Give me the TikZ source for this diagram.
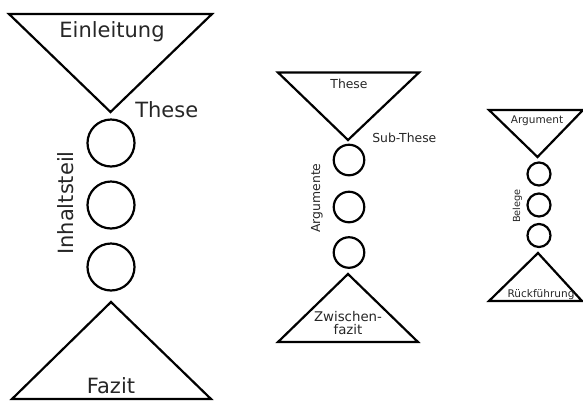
\documentclass[tikz,border=0pt]{standalone}
\usepackage{fontspec}
\setmainfont{DejaVu Sans}
\usetikzlibrary{positioning}

\begin{document}
\begin{tikzpicture}[
  x=0.75pt, y=-0.75pt,
  funnel/.style={draw=black, line width=1.65pt, line join=miter},
  ring/.style={circle, draw=black, line width=1.65pt, inner sep=0pt},
  bigtext/.style={font=\fontsize{15.75}{19}\selectfont, text=black!85},
  midtext/.style={font=\fontsize{9.3}{11}\selectfont, text=black!85},
  smalltext/.style={font=\fontsize{7.9}{9}\selectfont, text=black!85}
]
\useasboundingbox (0,0) rectangle (583,401);

% Essay: Einleitung - Inhaltsteil - Fazit
\draw[funnel] (9,14) -- (212,14) -- (110.5,112) -- cycle;
\draw[funnel] (12,399) -- (211,399) -- (111,302) -- cycle;
\node[ring, minimum size=35.25pt] (teil1) at (111,143) {};
\node[ring, minimum size=35.25pt] (teil2) at (111,205) {};
\node[ring, minimum size=35.25pt] (teil3) at (111,267) {};
\node[bigtext, anchor=base] (einleitung) at (112,37) {Einleitung};
\node[bigtext, anchor=base west, inner sep=0pt] (these) at (135,117) {These};
\node[bigtext, anchor=base, rotate=90] (inhaltsteil) at (73,203) {Inhaltsteil};
\node[bigtext, anchor=base] (fazit) at (111,393) {Fazit};

% Inhaltsteil: These - Argumente - Zwischenfazit
\draw[funnel] (278,72.5) -- (419,72.5) -- (348,140) -- cycle;
\draw[funnel] (278,342) -- (418,342) -- (348,274) -- cycle;
\node[ring, minimum size=22.9pt] (arg1) at (349,160) {};
\node[ring, minimum size=22.9pt] (arg2) at (349,207) {};
\node[ring, minimum size=22.9pt] (arg3) at (349,252.5) {};
\node[midtext, anchor=base] (hauptthese) at (349,88) {These};
\node[midtext, anchor=base west, inner sep=0pt] (subthese) at (372,142) {Sub-These};
\node[midtext, anchor=base, rotate=90] (argumente) at (320,198) {Argumente};
\node[font=\fontsize{10}{9.75}\selectfont, text=black!85, align=center]
  (zwischenfazit) at (348,323.5) {Zwischen-\\fazit};

% Argument: Argument - Belege - Rueckfuehrung
\draw[funnel] (489,110) -- (583,110) -- (537.5,157) -- cycle;
\draw[funnel] (489,301) -- (582,301) -- (538,253) -- cycle;
\node[ring, minimum size=17.25pt] (beleg1) at (539,174) {};
\node[ring, minimum size=17.25pt] (beleg2) at (539,205) {};
\node[ring, minimum size=17.25pt] (beleg3) at (539,235.5) {};
\node[smalltext, anchor=base] (argument) at (537,123) {Argument};
\node[smalltext, anchor=base, rotate=90, font=\fontsize{7.3}{9}\selectfont]
  (belege) at (520,206) {Belege};
\node[smalltext, anchor=base] (rueckfuehrung) at (541,297) {Rückführung};
\end{tikzpicture}
\end{document}
